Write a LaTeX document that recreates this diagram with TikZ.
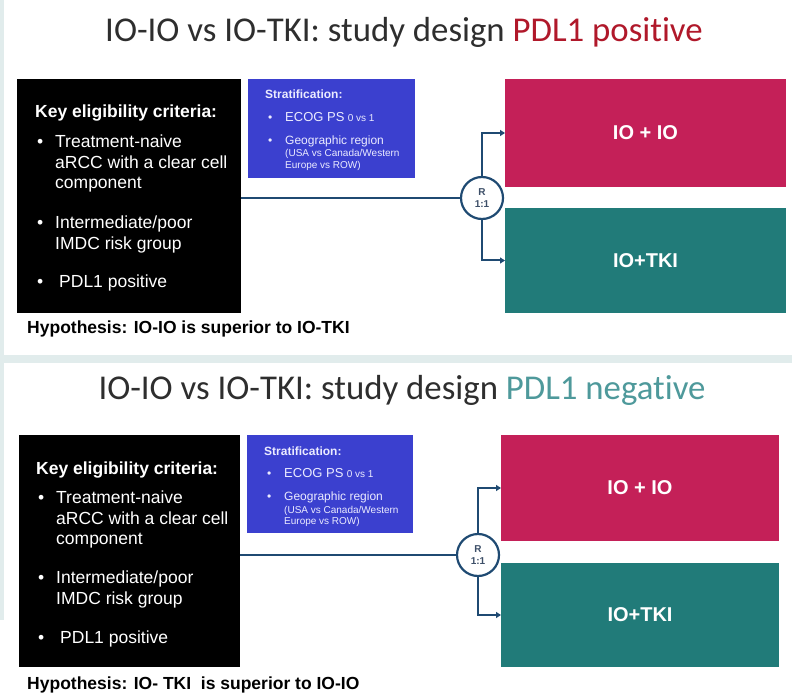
\documentclass[tikz,border=0pt]{standalone}
\usepackage{fontspec}
\setmainfont{Liberation Sans}
\newfontfamily\carlito[Ligatures=NoCommon]{Carlito}
\usetikzlibrary{arrows.meta}
\definecolor{bgc}{HTML}{E1ECEC}
\definecolor{stratblue}{HTML}{3B40CF}
\definecolor{iopink}{HTML}{C42058}
\definecolor{tkiteal}{HTML}{217B79}
\definecolor{linec}{HTML}{1F4A72}
\definecolor{titlegrey}{HTML}{2E2E2E}
\definecolor{posred}{HTML}{B0182A}
\definecolor{negteal}{HTML}{4E999B}
\definecolor{rtext}{HTML}{3D4F68}
\begin{document}
\begin{tikzpicture}[x=1pt,y=-1pt,
  titlest/.style={font=\carlito\fontsize{34.8}{40}\selectfont,text=titlegrey,inner sep=0pt},
  critbox/.style={fill=black,inner sep=0pt,outer sep=0pt},
  stratbox/.style={fill=stratblue,inner sep=0pt,outer sep=0pt},
  armio/.style={fill=iopink,inner sep=0pt,outer sep=0pt,text=white,font=\bfseries\fontsize{20}{24}\selectfont},
  armtki/.style={fill=tkiteal,inner sep=0pt,outer sep=0pt,text=white,font=\bfseries\fontsize{20}{24}\selectfont},
  crit/.style={anchor=base west,inner sep=0pt,text=white,font=\fontsize{17.5}{21}\selectfont},
  crithead/.style={crit,font=\bfseries\fontsize{17.5}{21}\selectfont},
  hypo/.style={anchor=base west,inner sep=0pt,text=black,font=\bfseries\fontsize{17.5}{21}\selectfont},
  strat/.style={anchor=base west,inner sep=0pt,text=white!92!blue,font=\fontsize{12}{14}\selectfont},
  strathead/.style={strat,font=\bfseries\fontsize{12}{14}\selectfont},
  stratsmall/.style={strat,font=\fontsize{10}{12}\selectfont},
  rnode/.style={circle,draw=linec,line width=2.2pt,fill=white,minimum size=42pt,inner sep=0pt,
    align=center,text=rtext,font=\bfseries\fontsize{10}{12}\selectfont},
  conn/.style={draw=linec,line width=2pt},
  arr/.style={conn,-{Triangle[length=5pt,width=6pt]}}
]
\useasboundingbox (0,0) rectangle (792,700);
% background
\fill[bgc] (0,0) rectangle (792,700);
\fill[white] (4,0) rectangle (792,355);
\fill[white] (4,363) rectangle (792,700);
\fill[white] (0,620) rectangle (4,700);

% ================= top panel =================
\node[titlest] (t1) at (404,32) {IO-IO vs IO-TKI: study design \textcolor{posred}{PDL1 positive}};

\node[critbox,minimum width=224pt,minimum height=234pt] (c1) at (129,196) {};
\node[crithead] (c1h) at (35,118) {Key eligibility criteria:};
\node[crit] (c1b1) at (37,148) {•};
\node[crit] (c1a) at (55,148) {Treatment-naive};
\node[crit] (c1b) at (55,169) {aRCC with a clear cell};
\node[crit] (c1c) at (55,189) {component};
\node[crit] (c1b2) at (37,229) {•};
\node[crit] (c1d) at (55,229) {Intermediate/poor};
\node[crit] (c1e) at (55,250) {IMDC risk group};
\node[crit] (c1b3) at (37,288) {•};
\node[crit] (c1f) at (59,288) {PDL1 positive};
\node[hypo] (h1) at (27,334) {Hypothesis: IO-IO is superior to IO-TKI};

\node[stratbox,minimum width=167pt,minimum height=99pt] (s1) at (331.5,128.5) {};
\node[strathead] (s1h) at (265,99) {Stratification:};
\node[strat] (s1b1) at (268,122) {•};
\node[strat] (s1a) at (285,122) {{\fontsize{13}{15}\selectfont ECOG PS} {\fontsize{10}{12}\selectfont 0 vs 1}};
\node[strat] (s1b2) at (268,145) {•};
\node[strat] (s1b) at (285,145) {Geographic region};
\node[stratsmall] (s1c) at (285,157) {(USA vs Canada/Western};
\node[stratsmall] (s1d) at (285,169) {Europe vs ROW)};

\node[armio,minimum width=281pt,minimum height=108pt] (io1) at (645.5,133) {IO + IO};
\node[armtki,minimum width=281pt,minimum height=105pt] (tki1) at (645.5,260.5) {IO+TKI};

\node[rnode] (r1) at (482,198) {R\\1:1};
\draw[conn] (c1.east |- r1.west) -- (r1.west);
\draw[arr] (r1.north) |- (io1.west);
\draw[arr] (r1.south) |- (tki1.west);

% ================= bottom panel =================
\node[titlest] (t2) at (402,390) {IO-IO vs IO-TKI: study design \textcolor{negteal}{PDL1 negative}};

\node[critbox,minimum width=221pt,minimum height=232pt] (c2) at (129.5,551) {};
\node[crithead] (c2h) at (36,474) {Key eligibility criteria:};
\node[crit] (c2b1) at (38,503) {•};
\node[crit] (c2a) at (56,503) {Treatment-naive};
\node[crit] (c2b) at (56,524) {aRCC with a clear cell};
\node[crit] (c2c) at (56,544) {component};
\node[crit] (c2b2) at (38,583) {•};
\node[crit] (c2d) at (56,583) {Intermediate/poor};
\node[crit] (c2e) at (56,604) {IMDC risk group};
\node[crit] (c2b3) at (38,643) {•};
\node[crit] (c2f) at (60,643) {PDL1 positive};
\node[hypo] (h2) at (27,689) {Hypothesis: IO- TKI\ \ is superior to IO-IO};

\node[stratbox,minimum width=166pt,minimum height=98pt] (s2) at (330,484) {};
\node[strathead] (s2h) at (264,455) {Stratification:};
\node[strat] (s2b1) at (267,477) {•};
\node[strat] (s2a) at (284,477) {{\fontsize{13}{15}\selectfont ECOG PS} {\fontsize{10}{12}\selectfont 0 vs 1}};
\node[strat] (s2b2) at (267,500) {•};
\node[strat] (s2b) at (284,500) {Geographic region};
\node[stratsmall] (s2c) at (284,513) {(USA vs Canada/Western};
\node[stratsmall] (s2d) at (284,524) {Europe vs ROW)};

\node[armio,minimum width=278pt,minimum height=106pt] (io2) at (640,488) {IO + IO};
\node[armtki,minimum width=278pt,minimum height=104pt] (tki2) at (640,615) {IO+TKI};

\node[rnode] (r2) at (478,555) {R\\1:1};
\draw[conn] (c2.east |- r2.west) -- (r2.west);
\draw[arr] (r2.north) |- (io2.west);
\draw[arr] (r2.south) |- (tki2.west);
\end{tikzpicture}
\end{document}
